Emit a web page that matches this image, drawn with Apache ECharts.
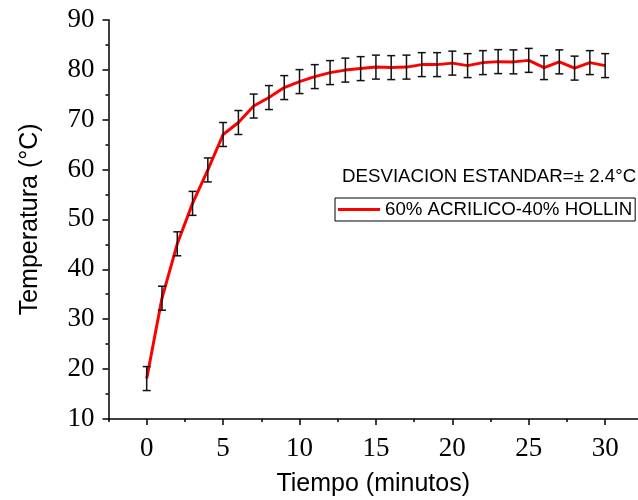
<!DOCTYPE html>
<html>
<head>
<meta charset="utf-8">
<script src="https://cdn.jsdelivr.net/npm/echarts@6/dist/echarts.min.js"></script>
<style>
  html, body { margin: 0; padding: 0; background: #fff; }
  #chart { width: 638px; height: 500px; }
</style>
</head>
<body>
<div id="chart"></div>
<script>
// tiempo (minutos) y temperatura medida
const tiempo = [0, 1, 2, 3, 4, 5, 6, 7, 8, 9, 10, 11, 12, 13, 14, 15,
  16, 17, 18, 19, 20, 21, 22, 23, 24, 25, 26, 27, 28, 29, 30];
const temperatura = [18.1, 34.2, 45.1, 53.2, 59.9, 67.0, 69.4, 72.7, 74.4, 76.4, 77.6,
  78.6, 79.4, 79.9, 80.2, 80.5, 80.4, 80.5, 81.0, 81.0, 81.3, 80.8, 81.4, 81.6, 81.55,
  81.85, 80.4, 81.55, 80.3, 81.4, 80.8];
// desviacion estandar de cada punto
const desviacion = [2.4, 2.4, 2.4, 2.4, 2.4, 2.4, 2.4, 2.4, 2.4, 2.4, 2.4,
  2.4, 2.4, 2.4, 2.4, 2.4, 2.4, 2.4, 2.4, 2.4, 2.4, 2.4, 2.4, 2.4, 2.4,
  2.4, 2.4, 2.4, 2.4, 2.4, 2.4];
const xTicks = [0, 5, 10, 15, 20, 25, 30];
const xMinorTicks = [-2.5, 2.5, 7.5, 12.5, 17.5, 22.5, 27.5];
const yTicks = [10, 20, 30, 40, 50, 60, 70, 80, 90];
const nombreSerie = '60% ACRILICO-40% HOLLIN';

const lineData = tiempo.map((t, i) => [t, temperatura[i]]);
const errData = tiempo.map((t, i) => [t, temperatura[i] - desviacion[i], temperatura[i] + desviacion[i]]);

const chart = echarts.init(document.getElementById('chart'));

const tickFont = { fontFamily: 'Liberation Serif', fontSize: 27, color: '#000' };

chart.setOption({
  animation: false,
  backgroundColor: '#fff',
  title: {
    text: 'DESVIACION ESTANDAR=± 2.4°C',
    left: 342,
    top: 167,
    padding: 0,
    textStyle: { fontFamily: 'Liberation Sans', fontSize: 18.7, fontWeight: 'normal', color: '#000' }
  },
  legend: {
    left: 335,
    top: 198,
    padding: [2, 3, 2, 3],
    borderColor: '#000',
    borderWidth: 1,
    itemWidth: 42,
    itemHeight: 3,
    data: [{ name: nombreSerie, icon: 'rect' }],
    textStyle: { fontFamily: 'Liberation Sans', fontSize: 18.7, color: '#000' }
  },
  grid: { left: 108.5, right: 0, top: 19.7, bottom: 81, containLabel: false, outerBoundsMode: 'none' },
  xAxis: [
    {
      // ticks menores
      type: 'value',
      min: -2.5,
      max: 32.15,
      position: 'bottom',
      axisLine: { show: false, onZero: false },
      axisTick: { length: 3, customValues: xMinorTicks, lineStyle: { color: '#000', width: 1.5 } },
      axisLabel: { show: false },
      splitLine: { show: false }
    },
    {
      type: 'value',
      min: -2.5,
      max: 32.15,
      position: 'bottom',
      name: 'Tiempo (minutos)',
      nameLocation: 'middle',
      nameGap: 53,
      nameTextStyle: { fontFamily: 'Liberation Sans', fontSize: 25, color: '#000' },
      axisLine: { show: true, onZero: false, lineStyle: { color: '#000', width: 1.5 } },
      axisTick: { length: 6, customValues: xTicks, lineStyle: { color: '#000', width: 1.5 } },
      axisLabel: Object.assign({ margin: 16, customValues: xTicks }, tickFont),
      splitLine: { show: false }
    }
  ],
  yAxis: {
    type: 'value',
    min: yTicks[0],
    max: yTicks[yTicks.length - 1],
    interval: 10,
    name: 'Temperatura (°C)',
    nameLocation: 'middle',
    nameGap: 66,
    nameTextStyle: { fontFamily: 'Liberation Sans', fontSize: 25, color: '#000' },
    axisLine: { show: true, onZero: false, lineStyle: { color: '#000', width: 1.5 } },
    axisTick: { show: true, length: 6, lineStyle: { color: '#000', width: 1.5 } },
    minorTick: { show: true, splitNumber: 2, length: 3, lineStyle: { color: '#000', width: 1.5 } },
    axisLabel: Object.assign({ margin: 14 }, tickFont),
    splitLine: { show: false }
  },
  series: [
    {
      name: nombreSerie,
      type: 'line',
      xAxisIndex: 1,
      data: lineData,
      symbol: 'none',
      color: '#ff0000',
      lineStyle: { color: '#ff0000', width: 3 },
      z: 2
    },
    {
      name: 'error',
      type: 'custom',
      xAxisIndex: 1,
      data: errData,
      z: 3,
      renderItem: function (params, api) {
        const x = api.value(0);
        const lo = api.coord([x, api.value(1)]);
        const hi = api.coord([x, api.value(2)]);
        const half = 4;
        const style = { stroke: '#111', lineWidth: 1.5, fill: null };
        return {
          type: 'group',
          children: [
            { type: 'line', shape: { x1: lo[0], y1: lo[1], x2: hi[0], y2: hi[1] }, style: style },
            { type: 'line', shape: { x1: lo[0] - half, y1: lo[1], x2: lo[0] + half, y2: lo[1] }, style: style },
            { type: 'line', shape: { x1: hi[0] - half, y1: hi[1], x2: hi[0] + half, y2: hi[1] }, style: style }
          ]
        };
      }
    }
  ]
});
</script>
</body>
</html>
